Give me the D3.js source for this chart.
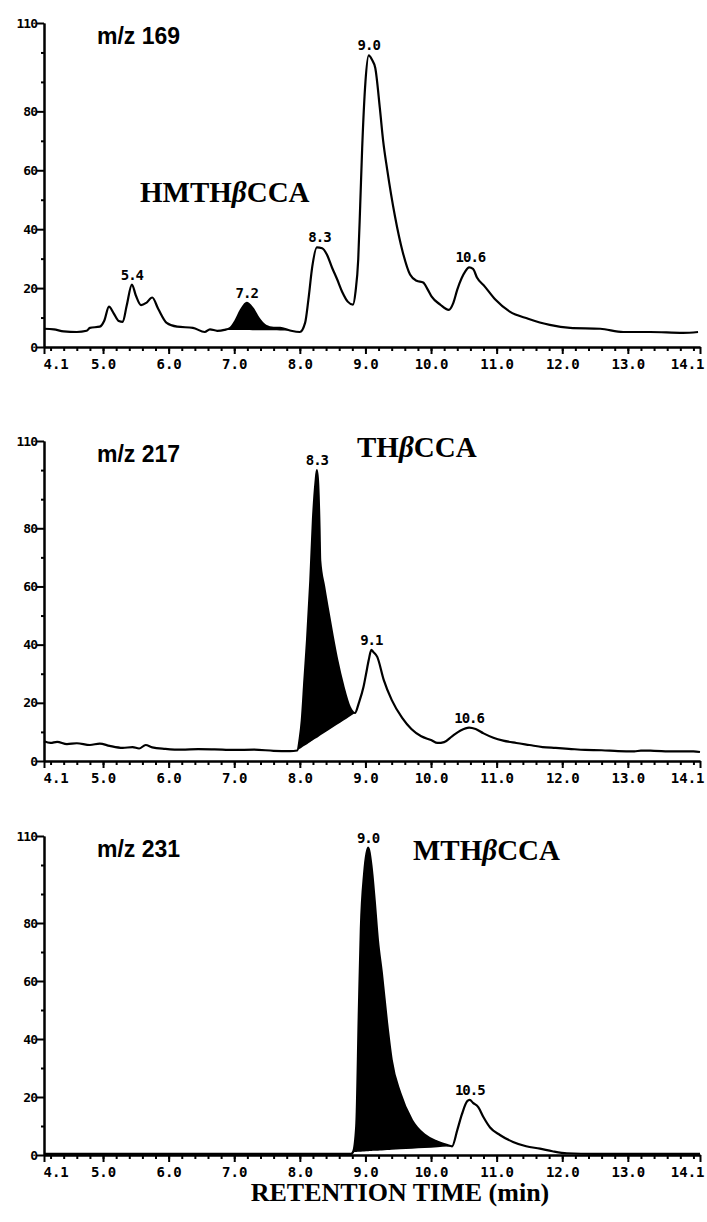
<!DOCTYPE html>
<html>
<head>
<meta charset="utf-8">
<script src="https://cdn.jsdelivr.net/npm/d3@7"></script>
<style>
body { margin: 0; background: #fff; }
</style>
</head>
<body>
<div id="chart"></div>
<script>
// axis ticks
const timeTicks = [4.1, 5, 6, 7, 8, 9, 10, 11, 12, 13, 14.1];
const timeTickLabels = ["4.1", "5.0", "6.0", "7.0", "8.0", "9.0", "10.0", "11.0", "12.0", "13.0", "14.1"];
const intensityTicks = [0, 20, 40, 60, 80, 110];
const intensityMinor = [10, 30, 50, 70, 90, 100];

// m/z 169
const time169 = [4.10, 4.25, 4.40, 4.60, 4.75, 4.80, 4.95, 5.02, 5.09, 5.16, 5.24, 5.30, 5.36, 5.44, 5.50, 5.58, 5.66, 5.75, 5.84, 5.97,
  6.13, 6.37, 6.55, 6.63, 6.74, 6.85, 6.94, 7.02, 7.10, 7.19, 7.28, 7.38, 7.48, 7.60, 7.70, 7.85, 8.00, 8.08, 8.13, 8.19,
  8.26, 8.34, 8.41, 8.49, 8.57, 8.65, 8.73, 8.81, 8.85, 8.89, 8.92, 8.95, 9.00, 9.05, 9.10, 9.15, 9.22, 9.27, 9.33, 9.45,
  9.57, 9.68, 9.78, 9.88, 9.95, 10.01, 10.14, 10.27, 10.34, 10.40, 10.52, 10.58, 10.64, 10.70, 10.82, 10.98, 11.20, 11.48, 11.81, 12.12,
  12.58, 12.93, 13.34, 13.84, 14.07];
const abund169 = [6.2, 6.0, 5.3, 5.1, 5.5, 6.5, 6.9, 9, 13.7, 11.5, 8.8, 8.5, 14, 21.2, 17.5, 14.2, 15, 16.8, 13, 8.2,
  6.9, 6.5, 5.1, 6.0, 5.5, 5.8, 6.5, 9, 12.5, 15, 13.2, 9.5, 7.2, 6.5, 6.5, 5.6, 5.1, 8.2, 16, 27.4,
  33.8, 33.5, 31.5, 27, 22.9, 18.5, 15.4, 14.4, 19, 29.7, 48, 67.4, 90, 99, 97.5, 94.7, 81, 70, 60.5, 44.4,
  32.1, 24.6, 22.5, 21.9, 19.5, 17.1, 14.4, 12.6, 15, 19.5, 25.6, 27, 26.5, 23.6, 20.5, 16.1, 12, 9.6, 7.5, 6.5,
  6.2, 5.1, 5.1, 4.8, 5.1];
const peakNames169 = ["5.4", "7.2", "8.3", "9.0", "10.6"];
const peakTimes169 = [5.44, 7.19, 8.30, 9.05, 10.60];
const shaded169 = [6.85, 7.85];

// m/z 217
const time217 = [4.10, 4.20, 4.30, 4.45, 4.60, 4.80, 4.95, 5.10, 5.30, 5.45, 5.55, 5.65, 5.75, 5.95, 6.20, 6.45, 6.70, 7.00, 7.30, 7.60,
  7.85, 7.96, 8.00, 8.03, 8.07, 8.11, 8.16, 8.20, 8.24, 8.26, 8.28, 8.30, 8.31, 8.37, 8.43, 8.50, 8.57, 8.66, 8.76, 8.84,
  8.90, 8.97, 9.01, 9.05, 9.09, 9.12, 9.18, 9.28, 9.40, 9.56, 9.70, 9.85, 10.00, 10.10, 10.20, 10.32, 10.45, 10.58, 10.68, 10.80,
  10.95, 11.10, 11.30, 11.50, 11.70, 11.90, 12.10, 12.35, 12.60, 12.85, 13.10, 13.20, 13.40, 13.70, 14.00, 14.10];
const abund217 = [6.8, 6.2, 6.6, 5.8, 6.1, 5.5, 6.0, 5.2, 4.5, 4.8, 4.3, 5.5, 4.7, 4.2, 3.9, 4.1, 4.0, 3.8, 3.9, 3.5,
  3.4, 3.6, 8, 14, 28, 41.6, 62, 83, 96, 100, 95, 80, 69, 60, 52, 43, 34.7, 26, 18.6, 16.5,
  20, 25.4, 30, 34.7, 38.2, 37.5, 35.8, 27.8, 21, 14.8, 11, 8.5, 7.2, 6.2, 6.5, 8.5, 10.5, 11.5, 11, 9.5,
  8, 7, 6.2, 5.5, 4.8, 4.5, 4.2, 3.8, 3.7, 3.4, 3.3, 3.6, 3.5, 3.3, 3.3, 3.1];
const peakNames217 = ["8.3", "9.1", "10.6"];
const peakTimes217 = [8.26, 9.09, 10.58];
const shaded217 = [7.96, 8.84];

// m/z 231
const time231 = [4.10, 5.00, 6.00, 7.00, 8.00, 8.78, 8.81, 8.86, 8.90, 8.93, 8.98, 9.04, 9.09, 9.14, 9.19, 9.25, 9.33, 9.40, 9.53, 9.71,
  9.90, 10.10, 10.25, 10.32, 10.40, 10.47, 10.55, 10.59, 10.64, 10.72, 10.80, 10.90, 11.05, 11.25, 11.45, 11.66, 11.85, 12.07, 12.50, 13.00,
  14.10];
const abund231 = [0.4, 0.4, 0.4, 0.4, 0.4, 0.4, 1, 10, 50, 78, 97, 106, 100, 88, 74, 62.8, 45.5, 32.8, 21.4, 12,
  7, 4.6, 3.4, 3.0, 8.6, 14, 18.5, 19, 18, 16.5, 13, 9.5, 6.9, 4.5, 3, 2.2, 1.3, 0.6, 0.4, 0.4,
  0.4];
const peakNames231 = ["9.0", "10.5"];
const peakTimes231 = [9.04, 10.59];
const shaded231 = [8.81, 10.32];

const width = 707, height = 1222;
const svg = d3.select("#chart").append("svg")
  .attr("width", width).attr("height", height)
  .style("background", "#fff");

const x = d3.scaleLinear().domain([4.1, 14.1]).range([44, 700]);

function drawPanel(top, zero, time, abund, peakNames, peakTimes, shaded, mz, compound, compoundX, compoundY) {
  const y = d3.scaleLinear().domain([0, 110]).range([zero, top]);
  const g = svg.append("g");
  const pts = time.map((t, i) => [t, abund[i]]);

  // shaded (integrated) peak with straight drop baseline
  const inside = pts.filter(d => d[0] >= shaded[0] - 1e-9 && d[0] <= shaded[1] + 1e-9);
  const a = inside[0], b = inside[inside.length - 1];
  const base = t => a[1] + (b[1] - a[1]) * (t - a[0]) / (b[0] - a[0]);
  g.append("path")
    .datum(inside)
    .attr("fill", "#000")
    .attr("d", d3.area()
      .curve(d3.curveMonotoneX)
      .x(d => x(d[0]))
      .y0(d => y(base(d[0])))
      .y1(d => y(d[1])));

  // trace
  g.append("path")
    .datum(pts)
    .attr("fill", "none")
    .attr("stroke", "#000")
    .attr("stroke-width", 2.2)
    .attr("stroke-linejoin", "round")
    .attr("d", d3.line().curve(d3.curveMonotoneX).x(d => x(d[0])).y(d => y(d[1])));

  // x axis
  const xMinor = d3.range(4.2, 14.05, 0.2).map(v => +v.toFixed(1));
  const xa = g.append("g").attr("transform", `translate(0,${zero})`);
  xa.call(d3.axisBottom(x).tickValues(xMinor).tickSize(4).tickSizeOuter(0).tickFormat(""));
  const xMajor = xa.append("g").call(d3.axisBottom(x).tickValues(timeTicks).tickSize(7).tickSizeOuter(0)
    .tickFormat((d, i) => timeTickLabels[i]));
  xa.selectAll("path,line").attr("stroke", "#000").attr("stroke-width", 2);
  const last = timeTicks.length - 1;
  xMajor.selectAll("text")
    .attr("font-family", "DejaVu Sans Mono")
    .attr("font-weight", "bold")
    .attr("font-size", 14)
    .attr("fill", "#000")
    .attr("y", 12)
    .attr("dy", "0.71em")
    .attr("text-anchor", (d, i) => i === 0 ? "start" : (i === last ? "end" : "middle"))
    .attr("dx", (d, i) => i === 0 ? -1 : (i === last ? 4 : 0));

  // y axis
  const ya = g.append("g").attr("transform", `translate(${x(4.1)},0)`);
  ya.call(d3.axisLeft(y).tickValues(intensityMinor).tickSize(3).tickSizeOuter(0).tickFormat(""));
  ya.append("g").call(d3.axisLeft(y).tickValues(intensityTicks).tickSize(7).tickSizeOuter(0));
  ya.selectAll("path,line").attr("stroke", "#000").attr("stroke-width", 2);
  ya.selectAll("text")
    .attr("font-family", "DejaVu Sans Mono")
    .attr("font-weight", "bold")
    .attr("font-size", 13)
    .attr("letter-spacing", -1)
    .attr("fill", "#000")
    .attr("x", -7);

  // peak retention labels
  peakNames.forEach((name, i) => {
    const near = pts.filter(d => Math.abs(d[0] - peakTimes[i]) < 0.1);
    const top = d3.max(near, d => d[1]);
    g.append("text")
      .attr("x", x(peakTimes[i]))
      .attr("y", y(top) - 5)
      .attr("text-anchor", "middle")
      .attr("font-family", "DejaVu Sans Mono")
      .attr("font-weight", "bold")
      .attr("font-size", 14)
      .attr("letter-spacing", -1)
      .text(name);
  });

  // ion label
  g.append("text")
    .attr("x", 97).attr("y", top + 21)
    .attr("font-family", "Liberation Sans")
    .attr("font-weight", "bold")
    .attr("font-size", 23)
    .text("m/z " + mz);

  // compound label, beta in italic
  const ct = g.append("text")
    .attr("x", compoundX).attr("y", compoundY)
    .attr("font-family", "Liberation Serif")
    .attr("font-weight", "bold")
    .attr("font-size", 29);
  const parts = compound.split("β");
  ct.append("tspan").text(parts[0]);
  ct.append("tspan").attr("font-style", "italic").text("β");
  ct.append("tspan").text(parts[1]);
}

drawPanel(23, 347, time169, abund169, peakNames169, peakTimes169, shaded169, "169", "HMTHβCCA", 140, 202);
drawPanel(441, 761, time217, abund217, peakNames217, peakTimes217, shaded217, "217", "THβCCA", 357, 457);
drawPanel(836, 1155, time231, abund231, peakNames231, peakTimes231, shaded231, "231", "MTHβCCA", 413, 860);

svg.append("text")
  .attr("x", 400).attr("y", 1201)
  .attr("text-anchor", "middle")
  .attr("font-family", "Liberation Serif")
  .attr("font-weight", "bold")
  .attr("font-size", 26)
  .text("RETENTION TIME (min)");
</script>
</body>
</html>
